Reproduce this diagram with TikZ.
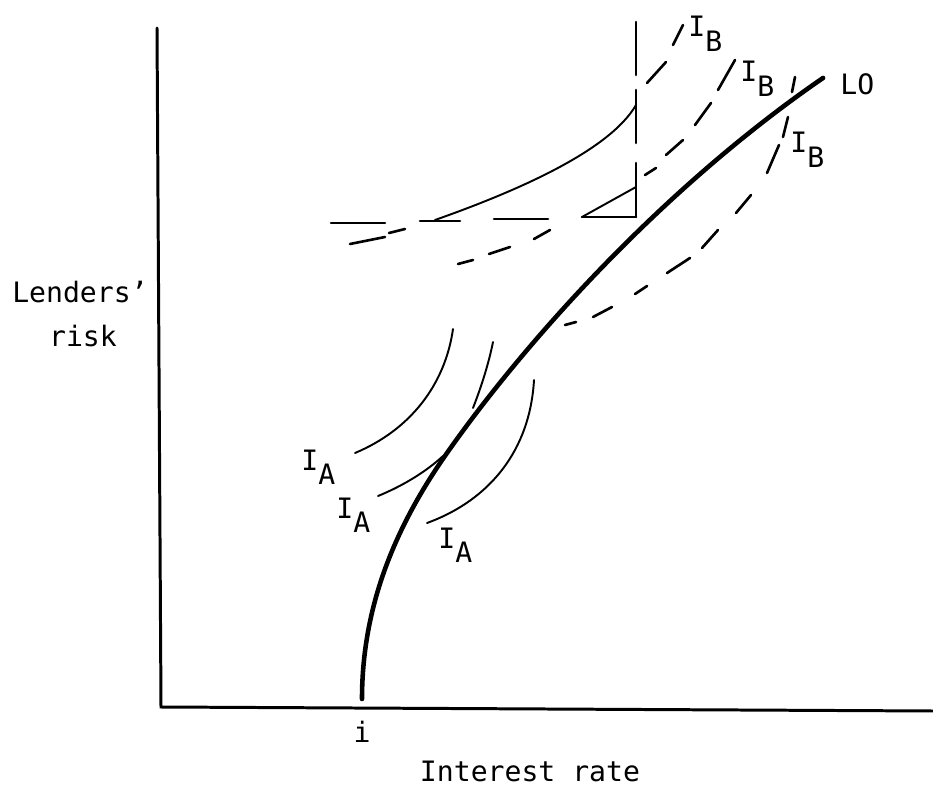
\documentclass[tikz,border=0pt]{standalone}
\usepackage{fontspec}
\setmainfont{DejaVu Sans Mono}
\begin{document}
\begin{tikzpicture}[x=0.02cm,y=-0.02cm,
  axis/.style={line width=1.7pt, line cap=round},
  locurve/.style={line width=2.6pt, line cap=round},
  icurve/.style={line width=1.1pt, line cap=round},
  dsh/.style={line width=1.5pt, line cap=round},
  lbl/.style={inner sep=0pt, anchor=base west, font=\fontsize{16pt}{19pt}\selectfont},
  clbl/.style={inner sep=0pt, anchor=base, font=\fontsize{16pt}{19pt}\selectfont}]
\useasboundingbox (0,0) rectangle (933,790);
% axes
\draw[axis] (157,28) -- (161,707) -- (933,711);
% LO curve
\draw[locurve] (362,699) .. controls (362,600) and (400,520) .. (447,453)
  .. controls (522,346) and (660,190) .. (823,78);
\fill (823,78) circle (2.2);
% I_A curves
\draw[icurve] (355,453) .. controls (410,430) and (445,385) .. (453,329);
\draw[icurve] (378,496) .. controls (405,485) and (428,470) .. (443,456);
\draw[icurve] (473,408) .. controls (482,385) and (489,362) .. (493,342);
\draw[icurve] (427,523) .. controls (490,500) and (530,450) .. (534,380);
% I_B solid part
\draw[icurve] (435,220) .. controls (520,190) and (610,150) .. (636,105);
\draw[icurve] (582,217) -- (636,187);
% constraint dashes
\draw[dsh] (331,223) -- (385,223) (420,221) -- (460,221) (494,219) -- (548,219) (582,217) -- (636,217);
\draw[dsh] (636,22) -- (636,75) (636,90) -- (636,143) (636,163) -- (636,217);
% I_B dashed curves
\draw[dsh] (350,244) -- (385,237) (389,233) -- (405,229);
\draw[dsh] (647,83) -- (666,62) (673,45) -- (683,25);
\draw[dsh] (458,264) -- (473,260) (489,254) -- (510,247) (534,239) -- (550,230);
\draw[dsh] (645,175) -- (656,168) (666,155) -- (683,140) (695,125) -- (711,103) (718,90) -- (735,60);
\draw[dsh] (565,325) -- (576,322) (593,317) -- (612,307) (635,294) -- (647,286) (667,273) -- (690,258) (702,248) -- (718,230) (736,213) -- (751,195) (767,173) -- (779,145) (783,137) -- (788,117) (792,92) -- (795,77);
% labels
\node[lbl] (ib1) at (688,37) {I\raisebox{-0.5em}{B}};
\node[lbl] (ib2) at (740,82) {I\raisebox{-0.5em}{B}};
\node[lbl] (ib3) at (790,153) {I\raisebox{-0.5em}{B}};
\node[lbl] (lo) at (840,95) {LO};
\node[lbl] (ia1) at (301,470) {I\raisebox{-0.5em}{A}};
\node[lbl] (ia2) at (336,518) {I\raisebox{-0.5em}{A}};
\node[lbl] (ia3) at (438,548) {I\raisebox{-0.5em}{A}};
\node[clbl] (i) at (362,742) {i};
\node[clbl] (ylab1) at (80,303) {Lenders'};
\node[clbl] (ylab2) at (83,347) {risk};
\node[clbl] (xlab) at (530,781) {Interest rate};
\end{tikzpicture}
\end{document}
